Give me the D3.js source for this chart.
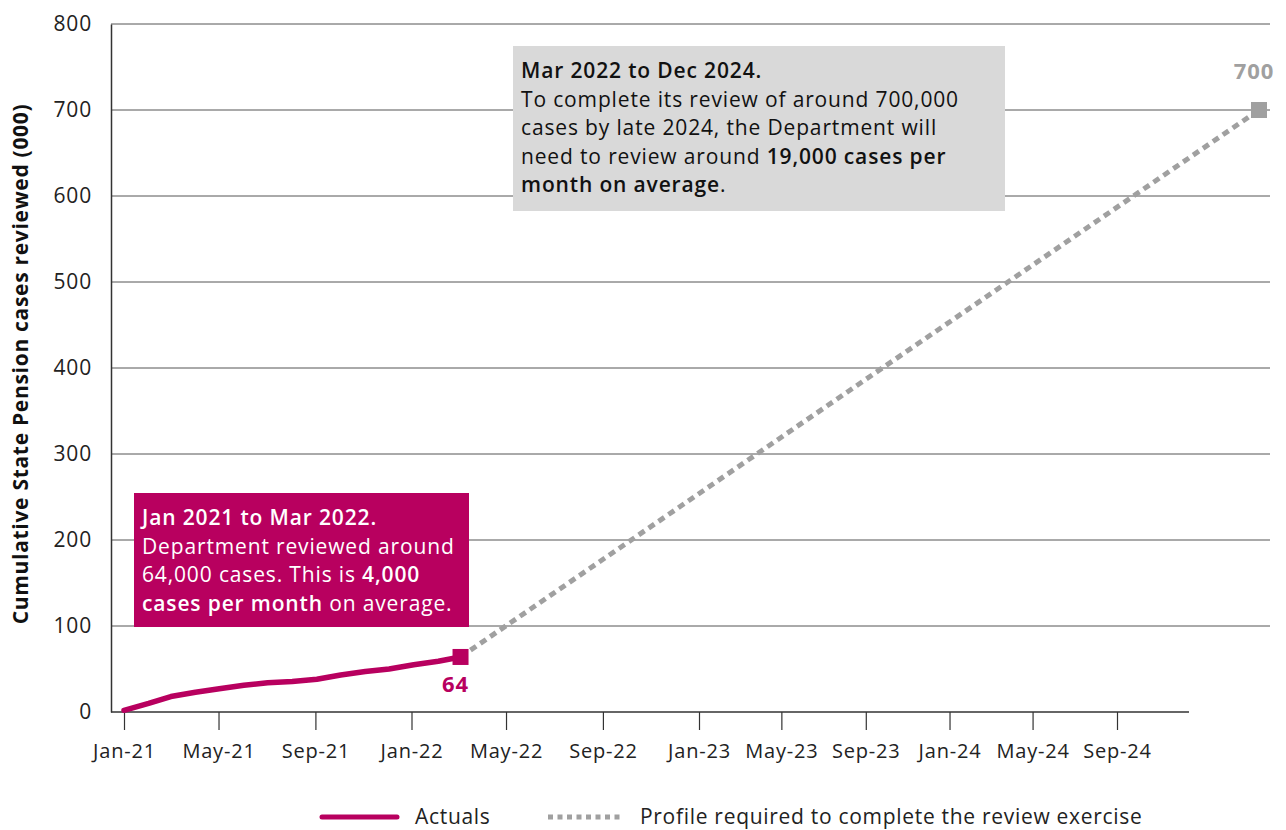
<!DOCTYPE html>
<html>
<head>
<meta charset="utf-8">
<script src="https://cdn.jsdelivr.net/npm/d3@7"></script>
<style>
  body { margin: 0; background: #fff; }
  svg, svg text { font-family: "Open Sans", "Noto Sans", sans-serif; }
</style>
</head>
<body>
<svg id="plotSvg"></svg>
<script>
var width = 1286;
var height = 830;
var plotSvg = document.getElementById('plotSvg');
plotSvg.setAttribute("width", width);
plotSvg.setAttribute("height", height);

// actual cumulative cases reviewed (000), monthly
var actualMonths = ["2021-01", "2021-02", "2021-03", "2021-04", "2021-05", "2021-06", "2021-07", "2021-08",
  "2021-09", "2021-10", "2021-11", "2021-12", "2022-01", "2022-02", "2022-03"];
var actualValues = [2, 10, 18, 23, 27, 31, 34, 35.5, 38, 43, 47, 50, 55, 59, 64];

// profile required to complete the review
var profileMonths = ["2022-03", "2024-12"];
var profileValues = [64, 700];

var xTickLabels = ["Jan-21", "May-21", "Sep-21", "Jan-22", "May-22", "Sep-22", "Jan-23", "May-23", "Sep-23", "Jan-24", "May-24", "Sep-24"];
var yTicks = [0, 100, 200, 300, 400, 500, 600, 700, 800];

var magenta = "#b8005f";
var grey = "#a0a0a0";
var font = "'Open Sans', 'Noto Sans', sans-serif";

var parseMonth = d3.timeParse("%Y-%m");
var parseTick = d3.timeParse("%b-%y");

var svg = d3.select("#plotSvg"),
  margin = { top: 24, right: 16, bottom: 118, left: 111 },
  w = width - margin.left - margin.right,
  h = height - margin.top - margin.bottom;

var g = svg.append("g").attr("transform", "translate(" + margin.left + "," + margin.top + ")");

var y = d3.scaleLinear().domain([0, 800]).range([h, 0]);

// data positions
var x = d3.scaleTime()
  .domain([parseMonth("2021-01"), parseMonth("2024-12")])
  .range([13, 1148]);

// category-style axis used by the original chart (labels are not evenly spaced in time)
var xAxisScale = d3.scaleTime()
  .domain([parseTick("Jan-21"), parseTick("Jan-23"), parseTick("Sep-24")])
  .range([13, 588, 1006]);

// gridlines
g.append("g")
  .selectAll("line")
  .data(yTicks.filter(function(d) { return d > 0; }))
  .enter().append("line")
  .attr("x1", 0)
  .attr("x2", w)
  .attr("y1", function(d) { return y(d); })
  .attr("y2", function(d) { return y(d); })
  .attr("stroke", "#555")
  .attr("stroke-width", 1);

// y axis
var yAxis = g.append("g")
  .call(d3.axisLeft(y).tickValues(yTicks).tickSize(0).tickPadding(19));
yAxis.attr("font-family", font);
yAxis.select(".domain").attr("stroke", "#333").attr("stroke-width", 1.5);
yAxis.selectAll("text").attr("font-size", 21).attr("letter-spacing", 0.8).attr("fill", "#222");

// x axis
var xAxis = g.append("g")
  .attr("transform", "translate(0," + h + ")")
  .call(d3.axisBottom(xAxisScale)
    .tickValues(xTickLabels.map(parseTick))
    .tickFormat(d3.timeFormat("%b-%y"))
    .tickSize(18)
    .tickSizeOuter(0)
    .tickPadding(14));
xAxis.attr("font-family", font);
xAxis.select(".domain").remove();
xAxis.append("line")
  .attr("x1", 0)
  .attr("x2", 1078)
  .attr("stroke", "#333")
  .attr("stroke-width", 1.5);
xAxis.selectAll(".tick line").attr("stroke", "#333").attr("stroke-width", 1.2);
xAxis.selectAll("text").attr("font-size", 20).attr("letter-spacing", 0.8).attr("fill", "#222");

// y axis title
svg.append("text")
  .attr("transform", "translate(28," + (margin.top + h / 2 - 4) + ") rotate(-90)")
  .attr("text-anchor", "middle")
  .attr("font-size", 21)
  .attr("letter-spacing", 0.7)
  .attr("font-weight", "bold")
  .attr("fill", "#111")
  .text("Cumulative State Pension cases reviewed (000)");

var actual = actualMonths.map(function(m, i) { return { date: parseMonth(m), value: actualValues[i] }; });
var profile = profileMonths.map(function(m, i) { return { date: parseMonth(m), value: profileValues[i] }; });

var line = d3.line()
  .x(function(d) { return x(d.date); })
  .y(function(d) { return y(d.value); });

g.append("path")
  .datum(profile)
  .attr("d", line)
  .attr("fill", "none")
  .attr("stroke", grey)
  .attr("stroke-width", 5)
  .attr("stroke-dasharray", "7,5");

g.append("path")
  .datum(actual)
  .attr("d", line)
  .attr("fill", "none")
  .attr("stroke", magenta)
  .attr("stroke-width", 5.5)
  .attr("stroke-linejoin", "round")
  .attr("stroke-linecap", "round");

// end markers
var lastActual = actual[actual.length - 1];
var lastProfile = profile[profile.length - 1];
var markers = [
  { d: lastActual, color: magenta, label: "64", dy: 35 },
  { d: lastProfile, color: grey, label: "700", dy: -31 }
];
g.selectAll("rect.marker")
  .data(markers)
  .enter().append("rect")
  .attr("class", "marker")
  .attr("x", function(m) { return x(m.d.date) - 8; })
  .attr("y", function(m) { return y(m.d.value) - 8; })
  .attr("width", 16)
  .attr("height", 16)
  .attr("fill", function(m) { return m.color; });
g.selectAll("text.mlabel")
  .data(markers)
  .enter().append("text")
  .attr("class", "mlabel")
  .attr("x", function(m) { return x(m.d.date) - 5; })
  .attr("y", function(m) { return y(m.d.value) + m.dy; })
  .attr("text-anchor", "middle")
  .attr("font-size", 22)
  .attr("letter-spacing", 1)
  .attr("font-weight", "bold")
  .attr("fill", function(m) { return m.color; })
  .text(function(m) { return m.label; });

// annotation boxes
function annotation(bx, by, bw, bh, fill, color, lines) {
  var a = svg.append("g");
  a.append("rect")
    .attr("x", bx).attr("y", by).attr("width", bw).attr("height", bh)
    .attr("fill", fill);
  var t = a.append("text")
    .attr("font-size", 21)
    .attr("letter-spacing", 0.85)
    .attr("fill", color);
  lines.forEach(function(parts, i) {
    var tl = t.append("tspan")
      .attr("x", bx + 8)
      .attr("y", by + 32 + i * 28.6);
    parts.forEach(function(p) {
      tl.append("tspan")
        .attr("font-weight", p[1] ? "600" : "normal")
        .text(p[0]);
    });
  });
}

annotation(513, 46, 492, 165, "#d9d9d9", "#111", [
  [["Mar 2022 to Dec 2024.", true]],
  [["To complete its review of around 700,000", false]],
  [["cases by late 2024, the Department will", false]],
  [["need to review around ", false], ["19,000 cases per", true]],
  [["month on average", true], [".", false]]
]);

annotation(134, 493, 335, 134, magenta, "#fff", [
  [["Jan 2021 to Mar 2022.", true]],
  [["Department reviewed around", false]],
  [["64,000 cases. This is ", false], ["4,000", true]],
  [["cases per month", true], [" on average.", false]]
]);

// legend
var legend = svg.append("g").attr("transform", "translate(0,817)");
legend.append("line")
  .attr("x1", 322).attr("x2", 397)
  .attr("stroke", magenta).attr("stroke-width", 5).attr("stroke-linecap", "round");
legend.append("text")
  .attr("x", 415).attr("y", 7)
  .attr("font-size", 21).attr("letter-spacing", 0.7).attr("fill", "#222")
  .text("Actuals");
legend.append("line")
  .attr("x1", 548).attr("x2", 622)
  .attr("stroke", grey).attr("stroke-width", 5).attr("stroke-dasharray", "5,4.5");
legend.append("text")
  .attr("x", 640).attr("y", 7)
  .attr("font-size", 21).attr("letter-spacing", 0.7).attr("fill", "#222")
  .text("Profile required to complete the review exercise");
</script>
</body>
</html>
